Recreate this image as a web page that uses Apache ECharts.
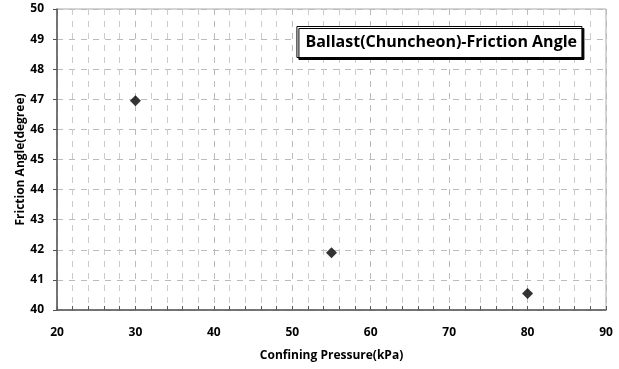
<!DOCTYPE html>
<html><head><meta charset="utf-8">
<script src="https://cdn.jsdelivr.net/npm/echarts@6/dist/echarts.min.js"></script>
<style>html,body{margin:0;padding:0;background:#fff}#c{width:619px;height:369px}</style>
</head><body><div id="c"></div>
<script>
const pressure = [30, 55, 80];
const frictionAngle = [46.95, 41.9, 40.55];
const xTicks = [20, 30, 40, 50, 60, 70, 80, 90];
const yTicks = [40, 41, 42, 43, 44, 45, 46, 47, 48, 49, 50];
const titleText = 'Ballast(Chuncheon)-Friction Angle';
const xName = 'Confining Pressure(kPa)';
const yName = 'Friction Angle(degree)';

const chart = echarts.init(document.getElementById('c'));
const font = '"Open Sans", "Noto Sans", sans-serif';
chart.setOption({
  animation: false,
  backgroundColor: '#fff',
  title: {
    text: titleText,
    right: 37, top: 26,
    padding: [8, 5, 8, 9],
    borderColor: '#000', borderWidth: 1,
    backgroundColor: '#fff',
    shadowColor: '#000', shadowOffsetX: 2, shadowOffsetY: 2, shadowBlur: 0,
    textStyle: {fontFamily: font, fontWeight: 'bold', fontSize: 16, color: '#000'}
  },
  grid: {left: 57, right: 13, top: 9, bottom: 59, show: true, borderColor: '#aaa', borderWidth: 1},
  xAxis: {
    type: 'value', min: xTicks[0], max: xTicks[xTicks.length - 1], interval: 10,
    name: xName, nameLocation: 'middle', nameGap: 40, nameMoveOverlap: false,
    nameTextStyle: {fontFamily: font, fontWeight: 'bold', fontSize: 12, color: '#000'},
    axisLine: {lineStyle: {color: '#555', width: 1.5}},
    axisTick: {show: true, inside: true, length: 4, lineStyle: {color: '#555'}},
    minorTick: {show: true, splitNumber: 5, length: 4, lineStyle: {color: '#555'}},
    axisLabel: {fontFamily: font, fontWeight: 'bold', fontSize: 12, color: '#000', margin: 17},
    splitLine: {show: true, lineStyle: {color: '#bbb', type: [6, 6]}},
    minorSplitLine: {show: true, lineStyle: {color: '#ccc', type: [6, 6]}}
  },
  yAxis: {
    type: 'value', min: yTicks[0], max: yTicks[yTicks.length - 1], interval: 1,
    name: yName, nameLocation: 'middle', nameGap: 30, nameRotate: 90, nameMoveOverlap: false,
    nameTextStyle: {fontFamily: font, fontWeight: 'bold', fontSize: 12, color: '#000'},
    axisLine: {show: true, lineStyle: {color: '#555', width: 1.5}},
    axisTick: {show: true, length: 4, lineStyle: {color: '#555'}},
    axisLabel: {fontFamily: font, fontWeight: 'bold', fontSize: 12, color: '#000', margin: 13},
    splitLine: {show: true, lineStyle: {color: '#bbb', type: [6, 6]}}
  },
  series: [{
    type: 'scatter',
    data: pressure.map((p, i) => [p, frictionAngle[i]]),
    symbol: 'diamond', symbolSize: 11,
    itemStyle: {color: '#000'}
  }]
});
</script></body></html>
